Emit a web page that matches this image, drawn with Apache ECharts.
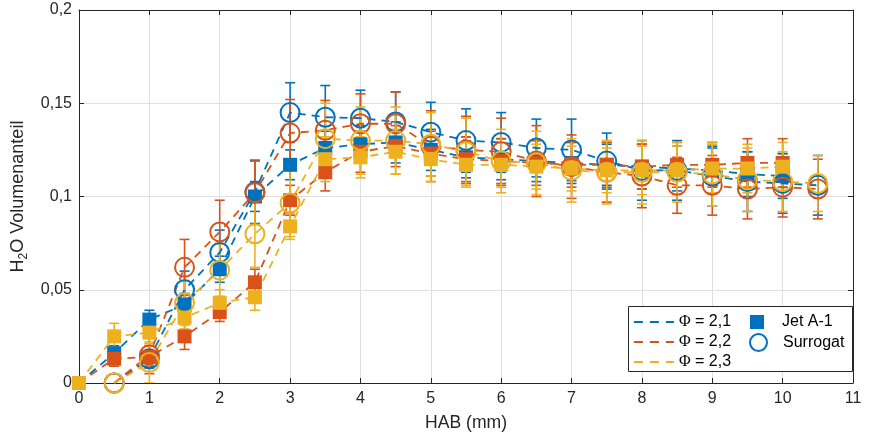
<!DOCTYPE html>
<html>
<head>
<meta charset="utf-8">
<script src="https://cdn.jsdelivr.net/npm/echarts@6/dist/echarts.min.js"></script>
<style>
  html, body { margin: 0; padding: 0; background: #ffffff; }
  #chart { width: 871px; height: 437px; }
</style>
</head>
<body>
<div id="chart"></div>
<script>
// Height above burner (mm) for each measurement series
const habJet = [0, 0.5, 1, 1.5, 2, 2.5, 3, 3.5, 4, 4.5, 5, 5.5, 6, 6.5, 7, 7.5, 8, 8.5, 9, 9.5, 10];
const habSur = [0.5, 1, 1.5, 2, 2.5, 3, 3.5, 4, 4.5, 5, 5.5, 6, 6.5, 7, 7.5, 8, 8.5, 9, 9.5, 10, 10.5];

// H2O volume fraction, Jet A-1
const jet21 = [0, 0.016, 0.034, 0.042, 0.061, 0.100, 0.117, 0.126, 0.128, 0.129, 0.125, 0.121, 0.120, 0.119, 0.118, 0.117, 0.116, 0.115, 0.114, 0.112, 0.111];
const jet22 = [0, 0.013, 0.014, 0.025, 0.038, 0.054, 0.098, 0.113, 0.124, 0.127, 0.123, 0.120, 0.119, 0.118, 0.117, 0.117, 0.116, 0.117, 0.117, 0.118, 0.118];
const jet23 = [0, 0.025, 0.027, 0.035, 0.043, 0.046, 0.084, 0.120, 0.121, 0.124, 0.120, 0.117, 0.117, 0.116, 0.115, 0.114, 0.114, 0.114, 0.115, 0.115, 0.116];
const jetErr21 = [0, 0.004, 0.005, 0.006, 0.007, 0.008, 0.008, 0.009, 0.010, 0.011, 0.011, 0.011, 0.011, 0.011, 0.011, 0.011, 0.012, 0.012, 0.012, 0.012, 0.012];
const jetErr22 = [0, 0.004, 0.006, 0.007, 0.005, 0.007, 0.008, 0.010, 0.011, 0.011, 0.012, 0.012, 0.012, 0.012, 0.012, 0.012, 0.012, 0.012, 0.012, 0.013, 0.013];
const jetErr23 = [0, 0.007, 0.006, 0.006, 0.007, 0.007, 0.007, 0.012, 0.011, 0.012, 0.012, 0.012, 0.012, 0.012, 0.012, 0.012, 0.013, 0.013, 0.013, 0.013, 0.013];

// H2O volume fraction, Surrogat
const sur21 = [0, 0.013, 0.050, 0.070, 0.1025, 0.145, 0.1425, 0.142, 0.140, 0.1345, 0.130, 0.129, 0.126, 0.125, 0.119, 0.114, 0.114, 0.111, 0.108, 0.107, 0.106];
const sur22 = [0, 0.015, 0.062, 0.081, 0.102, 0.134, 0.1355, 0.139, 0.139, 0.127, 0.125, 0.124, 0.119, 0.116, 0.113, 0.111, 0.106, 0.106, 0.104, 0.105, 0.104];
const sur23 = [0, 0.011, 0.043, 0.0605, 0.080, 0.0965, 0.131, 0.130, 0.130, 0.128, 0.124, 0.119, 0.118, 0.114, 0.113, 0.113, 0.113, 0.112, 0.109, 0.108, 0.107];
const surErr21 = [0, 0.004, 0.010, 0.012, 0.017, 0.016, 0.017, 0.015, 0.016, 0.016, 0.017, 0.016, 0.0155, 0.0165, 0.015, 0.016, 0.016, 0.016, 0.016, 0.016, 0.016];
const surErr22 = [0, 0.010, 0.015, 0.017, 0.017, 0.018, 0.016, 0.016, 0.017, 0.019, 0.018, 0.018, 0.019, 0.017, 0.016, 0.017, 0.015, 0.016, 0.016, 0.016, 0.016];
const surErr23 = [0, 0.011, 0.012, 0.014, 0.018, 0.018, 0.019, 0.018, 0.018, 0.017, 0.018, 0.017, 0.017, 0.017, 0.017, 0.017, 0.016, 0.017, 0.017, 0.016, 0.015];

// Legend entries
const phiNames = ['Φ = 2,1', 'Φ = 2,2', 'Φ = 2,3'];
const fuelNames = ['Jet A-1', 'Surrogat'];

const colors = ['#0072BD', '#D95319', '#EDB120'];
const FONT = 'Liberation Sans, Arial, Helvetica, sans-serif';
const AXIS_COLOR = '#262626';
const DASH = [8, 6];

const jetSets = [jet21, jet22, jet23];
const jetErrSets = [jetErr21, jetErr22, jetErr23];
const surSets = [sur21, sur22, sur23];
const surErrSets = [surErr21, surErr22, surErr23];

// Vertical error bar with caps, drawn in data coordinates
function errorBar(color) {
  return function (params, api) {
    const x = api.value(0), y = api.value(1), e = api.value(2);
    if (!e) return null;
    const hi = api.coord([x, y + e]);
    const lo = api.coord([x, y - e]);
    const cap = 5;
    const style = { stroke: color, lineWidth: 1.6 };
    return {
      type: 'group',
      children: [
        { type: 'line', shape: { x1: hi[0], y1: hi[1], x2: lo[0], y2: lo[1] }, style },
        { type: 'line', shape: { x1: hi[0] - cap, y1: hi[1], x2: hi[0] + cap, y2: hi[1] }, style },
        { type: 'line', shape: { x1: lo[0] - cap, y1: lo[1], x2: lo[0] + cap, y2: lo[1] }, style }
      ]
    };
  };
}

const series = [];
for (let k = 0; k < 3; k++) {
  const c = colors[k];
  // Jet A-1: filled squares
  series.push({
    type: 'custom', name: 'jet-err-' + k, clip: true, z: 2,
    renderItem: errorBar(c),
    data: habJet.map((x, i) => [x, jetSets[k][i], jetErrSets[k][i]]),
    encode: { x: 0, y: 1 }, silent: true
  });
  series.push({
    type: 'line', name: 'jet-' + k, z: 2,
    data: habJet.map((x, i) => [x, jetSets[k][i]]),
    symbol: 'rect', symbolSize: 14, showAllSymbol: true,
    itemStyle: { color: c, borderWidth: 0 },
    lineStyle: { color: c, width: 1.8, type: DASH },
    emphasis: { disabled: true }, silent: true, animation: false
  });
  // Surrogat: open circles
  series.push({
    type: 'custom', name: 'sur-err-' + k, clip: true, z: 2,
    renderItem: errorBar(c),
    data: habSur.map((x, i) => [x, surSets[k][i], surErrSets[k][i]]),
    encode: { x: 0, y: 1 }, silent: true
  });
  series.push({
    type: 'line', name: 'sur-' + k, z: 2,
    data: habSur.map((x, i) => [x, surSets[k][i]]),
    symbol: 'circle', symbolSize: 19, showAllSymbol: true,
    itemStyle: { color: 'rgba(0,0,0,0)', borderColor: c, borderWidth: 2 },
    lineStyle: { color: c, width: 1.8, type: DASH },
    emphasis: { disabled: true }, silent: true, animation: false
  });
}

// Series that only feed the legends
phiNames.forEach((n, k) => series.push({
  type: 'line', name: n, data: [], symbol: 'none',
  lineStyle: { color: colors[k], width: 1.8, type: DASH },
  itemStyle: { color: colors[k] }
}));
series.push({
  type: 'scatter', name: fuelNames[0], data: [], symbol: 'rect',
  itemStyle: { color: colors[0], opacity: 1 }
});
series.push({
  type: 'scatter', name: fuelNames[1], data: [], symbol: 'circle',
  itemStyle: { color: 'rgba(0,0,0,0)', borderColor: colors[0], borderWidth: 2, opacity: 1 }
});

const tickOpts = { show: true, inside: true, length: 5, lineStyle: { color: AXIS_COLOR, width: 1 } };
const lineOpts = { show: true, onZero: false, lineStyle: { color: AXIS_COLOR, width: 1 } };

function fmtDecimal(v) {
  if (v === 0) return '0';
  return String(+v.toFixed(3)).replace('.', ',');
}

const option = {
  backgroundColor: '#ffffff',
  animation: false,
  textStyle: { fontFamily: FONT },
  grid: { left: 79, right: 18, top: 10, bottom: 54, containLabel: false },
  xAxis: [
    {
      type: 'value', min: 0, max: 11, interval: 1, position: 'bottom',
      name: 'HAB (mm)', nameLocation: 'middle', nameGap: 31,
      nameTextStyle: { fontSize: 17.6, color: AXIS_COLOR, fontFamily: FONT },
      axisLine: lineOpts, axisTick: tickOpts,
      axisLabel: { fontSize: 16, color: AXIS_COLOR, margin: 8, fontFamily: FONT },
      splitLine: { show: true, lineStyle: { color: '#dfdfdf', width: 1 } }
    },
    {
      type: 'value', min: 0, max: 11, interval: 1, position: 'top',
      axisLine: lineOpts, axisTick: tickOpts,
      axisLabel: { show: false }, splitLine: { show: false }
    }
  ],
  yAxis: [
    {
      type: 'value', min: 0, max: 0.2, interval: 0.05, position: 'left',
      name: '{n|H}{s|2}{n|O Volumenanteil}', nameLocation: 'middle', nameGap: 46,
      nameTextStyle: {
        color: AXIS_COLOR, fontFamily: FONT,
        rich: {
          n: { fontSize: 18, lineHeight: 24, verticalAlign: 'middle', color: AXIS_COLOR, fontFamily: FONT },
          s: { fontSize: 12, lineHeight: 12, verticalAlign: 'bottom', color: AXIS_COLOR, fontFamily: FONT }
        }
      },
      axisLine: lineOpts, axisTick: tickOpts,
      axisLabel: { fontSize: 16, color: AXIS_COLOR, margin: 7, fontFamily: FONT, formatter: fmtDecimal },
      splitLine: { show: true, lineStyle: { color: '#dfdfdf', width: 1 } }
    },
    {
      type: 'value', min: 0, max: 0.2, interval: 0.05, position: 'right',
      axisLine: lineOpts, axisTick: tickOpts,
      axisLabel: { show: false }, splitLine: { show: false }
    }
  ],
  graphic: [{
    type: 'rect', z: 10,
    shape: { x: 628.5, y: 306.5, width: 224, height: 65 },
    style: { fill: '#ffffff', stroke: AXIS_COLOR, lineWidth: 1 }
  }],
  legend: [
    {
      data: phiNames.map((n, k) => ({
        name: n,
        itemStyle: { opacity: 0 },
        lineStyle: { color: colors[k], width: 1.8, type: [9, 7], opacity: 1 }
      })),
      orient: 'vertical', left: 628, top: 309, z: 20,
      itemWidth: 40, itemHeight: 14, itemGap: 4, selectedMode: false,
      formatter: (name) => name.replace('Φ', '{p|Φ}'),
      textStyle: {
        fontSize: 16, color: '#000000', fontFamily: FONT,
        rich: { p: { fontSize: 16, fontFamily: 'Liberation Serif, Times New Roman, serif', color: '#000000' } }
      }
    },
    {
      data: [{ name: fuelNames[0], icon: 'rect', itemStyle: { color: colors[0], opacity: 1 } }],
      orient: 'vertical', left: 745, top: 309, z: 20,
      itemWidth: 14, itemHeight: 14, selectedMode: false,
      textStyle: { fontSize: 16, color: '#000000', fontFamily: FONT, padding: [0, 0, 0, 13] }
    },
    {
      data: [{ name: fuelNames[1], icon: 'circle', itemStyle: { color: 'rgba(0,0,0,0)', borderColor: colors[0], borderWidth: 2, opacity: 1 } }],
      orient: 'vertical', left: 744, top: 328, z: 20,
      itemWidth: 17, itemHeight: 17, selectedMode: false,
      textStyle: { fontSize: 16, color: '#000000', fontFamily: FONT, padding: [0, 0, 0, 11] }
    }
  ],
  series: series
};

const chart = echarts.init(document.getElementById('chart'), null, { renderer: 'canvas' });
chart.setOption(option);
</script>
</body>
</html>
